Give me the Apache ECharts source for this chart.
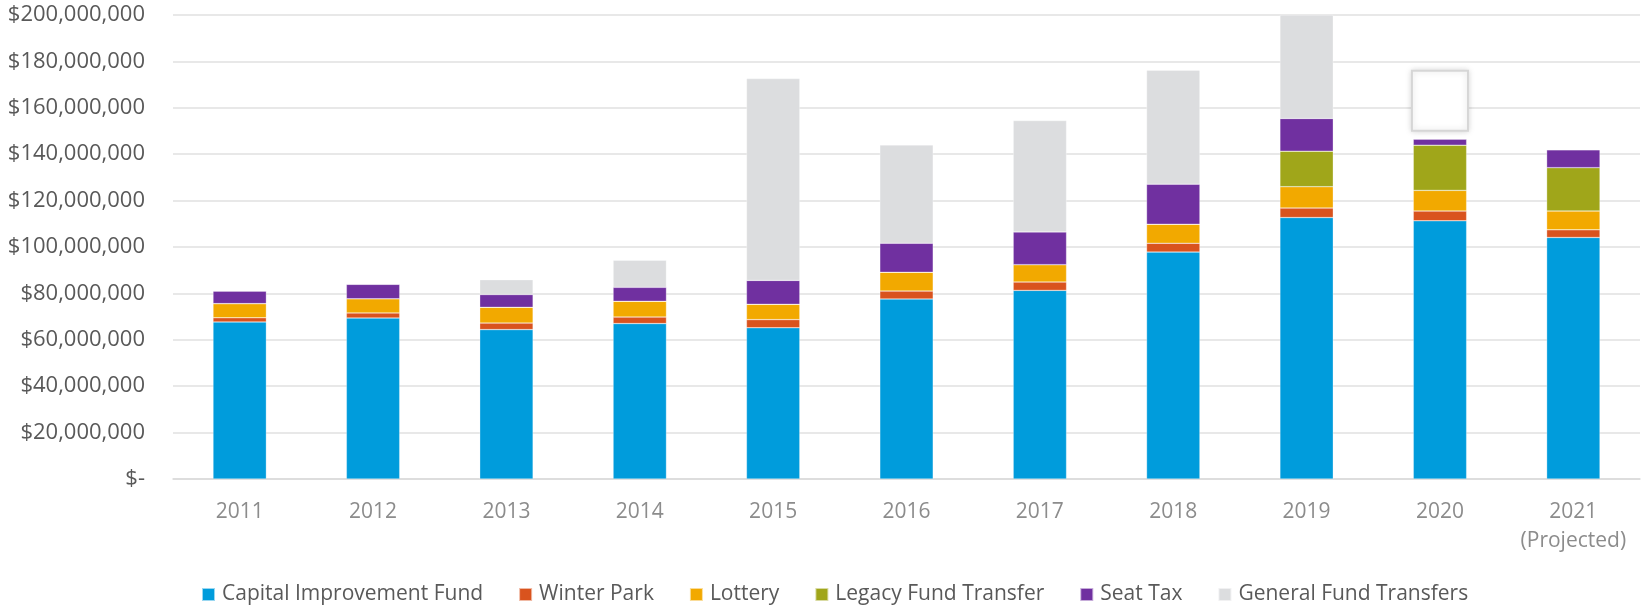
<!DOCTYPE html>
<html>
<head>
<meta charset="utf-8">
<script src="https://cdn.jsdelivr.net/npm/echarts@6/dist/echarts.min.js"></script>
<style>
  html, body { margin: 0; padding: 0; background: #fff; }
  #chart { width: 1641px; height: 606px; }
</style>
</head>
<body>
<div id="chart"></div>
<script>
const years = ['2011', '2012', '2013', '2014', '2015', '2016', '2017', '2018', '2019', '2020', '2021\n(Projected)']
const seriesNames = ['Capital Improvement Fund', 'Winter Park', 'Lottery', 'Legacy Fund Transfer', 'Seat Tax', 'General Fund Transfers']

// values in $ millions
const capitalImprovement = [67.7, 69.4, 64.4, 67.0, 65.2, 77.6, 81.3, 97.8, 112.7, 111.3, 104.1]
const winterPark = [1.8, 2.2, 2.8, 2.8, 3.5, 3.4, 3.6, 3.8, 4.1, 4.2, 3.3]
const lottery = [6.1, 6.1, 6.8, 6.8, 6.6, 8.1, 7.5, 8.2, 9.2, 8.9, 8.1]
const legacyFund = [0, 0, 0, 0, 0, 0, 0, 0, 15.3, 19.5, 18.7]
const seatTax = [5.4, 6.2, 5.5, 6.0, 10.3, 12.5, 14.1, 17.3, 14.1, 2.6, 7.7]
const generalFund = [0, 0, 6.4, 11.7, 87.0, 42.4, 48.0, 49.1, 44.6, 0, 0]

// the empty callout box drawn over 2020 (value range, $ millions)
const boxYear = '2020'
const boxRange = [150.1, 176.0]

const yTicks = { min: 0, max: 200, step: 20 }

const chart = echarts.init(document.getElementById('chart'))

const toDollars = arr => arr.map(v => Math.round(v * 1e6))

const mkSeries = (name, values, color) => {
  const s = {
    name,
    type: 'bar',
    stack: 'total',
    barWidth: '40%',
    itemStyle: { color, borderColor: 'rgba(255,255,255,0.6)', borderWidth: 0.5 }
  }
  s.data = toDollars(values)
  return s
}

const legend = {
  top: 579,
  left: 196,
  itemWidth: 13,
  itemHeight: 13,
  itemGap: 35,
  icon: 'rect',
  textStyle: { fontSize: 21, color: '#595959', padding: [0, 0, 0, 2], fontFamily: '"Open Sans", sans-serif' }
}
legend.data = seriesNames

const xAxis = {
  type: 'category',
  axisLine: { lineStyle: { color: '#d9d9d9', width: 1.5 } },
  axisTick: { show: false },
  axisLabel: { interval: 0, fontSize: 21, color: '#8c8c8c', margin: 19, lineHeight: 29 }
}
xAxis.data = years

const option = {
  animation: false,
  textStyle: { fontFamily: '"Open Sans", sans-serif' },
  grid: { left: 173, right: 1, top: 15, bottom: 127, containLabel: false },
  legend,
  xAxis,
  yAxis: {
    type: 'value',
    min: yTicks.min * 1e6,
    max: yTicks.max * 1e6,
    interval: yTicks.step * 1e6,
    axisLine: { show: false },
    axisTick: { show: false },
    splitLine: { lineStyle: { color: '#e0e0e0', width: 1.5 } },
    axisLabel: {
      fontSize: 22,
      color: '#595959',
      margin: 28,
      formatter: v => v === 0 ? '$-' : '$' + v.toLocaleString('en-US')
    }
  },
  series: [
    mkSeries(seriesNames[0], capitalImprovement, '#009cdc'),
    mkSeries(seriesNames[1], winterPark, '#d9531e'),
    mkSeries(seriesNames[2], lottery, '#f2a900'),
    mkSeries(seriesNames[3], legacyFund, '#a0a61a'),
    mkSeries(seriesNames[4], seatTax, '#7030a0'),
    mkSeries(seriesNames[5], generalFund, '#dcdddf')
  ]
}

chart.setOption(option)

// place the callout box through the chart's own scales
const drawBox = () => {
  const idx = years.indexOf(boxYear)
  const p1 = chart.convertToPixel({ gridIndex: 0 }, [idx, boxRange[1] * 1e6])
  const p0 = chart.convertToPixel({ gridIndex: 0 }, [idx, boxRange[0] * 1e6])
  const band = chart.getModel().getComponent('xAxis', 0).axis.getBandWidth()
  const w = band * 0.42
  chart.setOption({
    graphic: [{
      type: 'rect',
      shape: { x: p1[0] - w / 2, y: p1[1], width: w, height: p0[1] - p1[1] },
      style: {
        fill: '#fff',
        stroke: '#d6d6d6',
        lineWidth: 2,
        shadowBlur: 6,
        shadowColor: 'rgba(0,0,0,0.15)'
      },
      z: 100
    }]
  })
}
drawBox()

window.addEventListener('resize', () => { chart.resize(); drawBox() })
</script>
</body>
</html>
